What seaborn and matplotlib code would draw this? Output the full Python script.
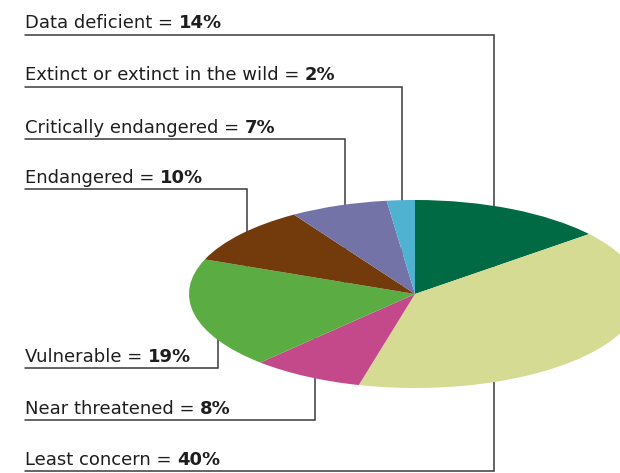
import seaborn as sns
import matplotlib.pyplot as plt

# Data (clockwise from 12 o'clock)
categories = ['Data deficient', 'Least concern', 'Near threatened', 'Vulnerable',
              'Endangered', 'Critically endangered', 'Extinct or extinct in the wild']
shares = [14, 40, 8, 19, 10, 7, 2]
colors = ['#006a45', '#d5db93', '#c3498b', '#5bad43', '#733a0b', '#7473a7', '#4fb2d0']

# label layout (pixels from top-left): underline y, elbow x
label_order = ['Data deficient', 'Extinct or extinct in the wild', 'Critically endangered',
               'Endangered', 'Vulnerable', 'Near threatened', 'Least concern']
underline_y = [35, 87, 139, 189, 368, 420, 471]
elbow_x = [494, 402, 345, 247, 218, 315, 494]
W, H = 620, 473
cx, cy, rx, ry = 415, 294, 226, 94

sns.set_theme(style="white")
plt.rcParams['font.family'] = ['DejaVu Sans']

fig = plt.figure(figsize=(W / 100, H / 100), dpi=100)

# label / connector layer (pixel coords)
axl = fig.add_axes([0, 0, 1, 1])
axl.set_xlim(0, W)
axl.set_ylim(H, 0)
axl.axis('off')

share_of = dict(zip(categories, shares))
for name, uy, ex in zip(label_order, underline_y, elbow_x):
    axl.plot([25, ex, ex], [uy, uy, cy], color='#3a3a3a', lw=1.1, solid_joinstyle='miter')
    t = axl.text(25, uy - 6.5, f"{name} = ", fontsize=13, color='#1e1e1e',
                 va='baseline', ha='left')
    axl.annotate(f"{share_of[name]}%", xy=(1, 0), xycoords=t, va='bottom', ha='left',
                 fontsize=13, fontweight='bold', color='#1e1e1e')

# pie layer, squashed into an ellipse
axp = fig.add_axes([0, 0, 1, 1])
axp.pie(shares, colors=colors, startangle=90, counterclock=False, radius=1,
        wedgeprops=dict(linewidth=0))
axp.set_aspect('auto')
axp.set_xlim(-cx / rx, (W - cx) / rx)
axp.set_ylim(-(H - cy) / ry, cy / ry)
axp.set_facecolor('none')
axp.axis('off')

plt.savefig("out.png", dpi=100)
plt.close()
